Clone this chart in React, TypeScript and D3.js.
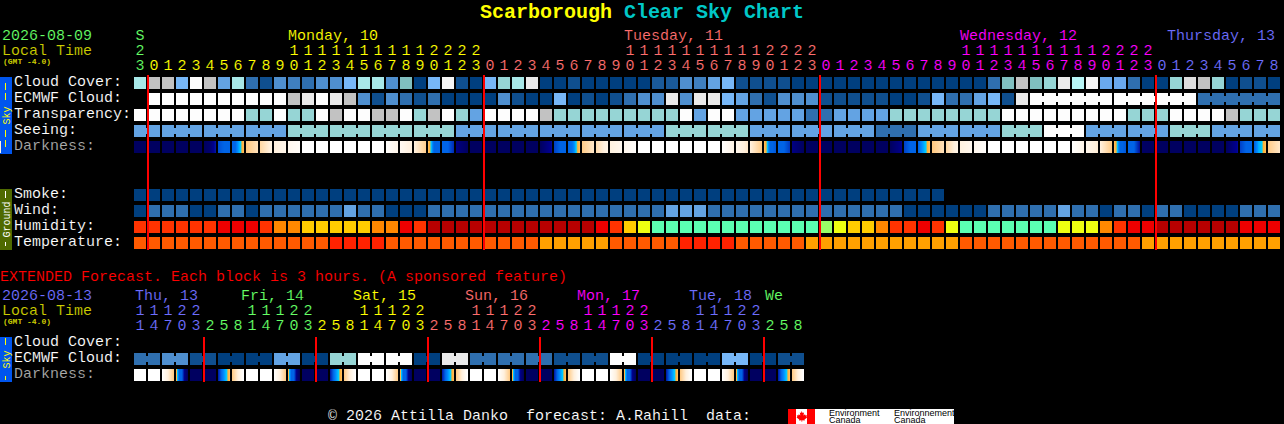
import React from 'react';
import * as d3 from 'd3';

// hour of each 1-hour column
const hours = [23,
  0,1,2,3,4,5,6,7,8,9,10,11,12,13,14,15,16,17,18,19,20,21,22,23,
  0,1,2,3,4,5,6,7,8,9,10,11,12,13,14,15,16,17,18,19,20,21,22,23,
  0,1,2,3,4,5,6,7,8,9,10,11,12,13,14,15,16,17,18,19,20,21,22,23,
  0,1,2,3,4,5,6,7,8];
const extHours = [11,14,17,20,23, 2,5,8,11,14,17,20,23, 2,5,8,11,14,17,20,23, 2,5,8,11,14,17,20,23,
  2,5,8,11,14,17,20,23, 2,5,8,11,14,17,20,23, 2,5,8];

const cloudCover = [70,80,80,50,100,80,40,70,20,10,30,25,20,30,30,50,70,70,30,65,0,
  50,95,10,0,50,60,70,90,0,0,10,0,0,0,0,0,15,15,30,25,40,50,10,10,10,10,0,0,0,0,0,
  0,0,0,0,0,0,0,0,0,20,65,80,65,60,90,75,95,45,45,20,0,0,60,85,80,60,0,10,10,0];
const ecmwfCloud = [null,100,100,100,100,100,100,100,100,100,100,80,90,100,90,80,30,10,30,20,10,
  20,0,0,0,0,30,10,0,0,50,0,10,0,10,20,30,30,90,30,90,90,50,40,20,10,30,30,30,10,10,10,
  10,10,0,0,10,50,20,20,40,50,10,90,100,100,100,100,100,100,100,100,100,100,100,100,20,20,20,20,20,20];
const transparency = [100,100,100,100,100,100,100,100,60,60,100,60,60,100,80,100,100,80,80,100,60,
  80,100,60,40,100,100,100,100,80,60,60,60,60,60,60,60,60,60,100,40,100,100,40,40,40,40,40,20,20,40,40,
  40,40,60,60,60,60,60,60,60,60,100,100,100,100,100,100,100,100,100,60,60,60,100,100,100,100,80,60,60,60];
const seeing = [40,40,40,40,40,40,40,40,40,40,40,60,60,60,60,60,60,60,60,60,60,
  60,60,40,40,40,40,40,40,40,40,40,40,40,40,40,40,40,60,60,60,60,60,60,40,40,40,40,40,40,40,40,
  40,20,20,20,40,40,40,40,40,40,60,60,60,100,100,100,40,40,40,40,40,40,60,60,60,40,40,40,40,40];
const smoke = [0,0,0,0,0,0,0,0,0,0,0,0,0,0,0,0,0,0,0,0,0,0,0,0,0,0,0,0,0,
  0,0,0,0,0,0,0,0,0,0,0,0,0,0,0,0,0,0,0,0,0,0,0,0,0,0,0,0,0];
const wind = [0,20,20,20,0,0,20,20,0,20,20,20,20,20,20,40,20,20,0,0,0,
  20,20,20,20,20,20,20,20,20,20,20,20,20,20,20,20,20,40,40,40,20,20,20,20,20,20,20,20,20,20,20,
  20,20,20,0,0,0,0,0,0,20,20,20,20,20,40,20,20,0,20,20,0,20,20,0,0,0,0,20,20,20];
const humidity = [4,4,4,4,4,4,5,5,5,4,3,3,2,2,2,2,2,3,3,5,4,
  6,6,6,6,6,6,6,6,6,6,6,6,5,4,2,1,0,0,0,0,0,0,0,0,0,0,0,0,7,1,2,
  2,3,4,4,5,4,1,0,0,0,0,0,0,0,1,1,1,3,4,5,5,6,6,6,6,6,6,5,5,5];
const temperature = [1,1,1,1,1,1,1,1,1,1,1,1,1,1,2,2,2,2,1,1,1,
  1,1,1,1,1,1,1,1,0,0,0,0,0,1,1,1,1,1,2,2,2,2,1,1,1,1,1,0,0,0,0,
  0,0,0,0,0,0,0,1,1,1,1,1,1,1,1,1,1,1,1,1,0,0,0,0,0,0,0,0,0,0];
const extEcmwf = [20,20,30,30,10,10,0,0,0,0,40,40,0,0,60,60,100,100,100,100,0,0,90,90,
  20,20,20,20,20,20,10,10,10,10,100,100,0,0,0,0,0,0,50,50,0,0,10,10];

// colour stops read across each darkness cell, 0 is night and 1 is full daylight
const N = [0.05, 0.05];
const W = [1, 1];
const darkness = [N,N,N,N,N,[0.05,0.08,0.18],[0.27,0.3,0.3],[0.3,0.3,0.4,0.46,0.55],[0.6,0.72],[0.68,0.82],[0.8,0.87],[0.9,0.96],
  W,W,W,W,W,W,[0.98,0.88],[0.92,0.8],[0.8,0.64],
  [0.55,0.45,0.3,0.3,0.3],[0.3,0.3,0.22],[0.12,0.05],N,N,N,N,N,[0.05,0.16],[0.25,0.3,0.3],[0.3,0.33,0.45,0.55],[0.62,0.75],[0.7,0.85],[0.82,0.9],[0.9,0.97],
  W,W,W,W,W,W,[0.98,0.85],[0.88,0.76],[0.8,0.62],
  [0.55,0.46,0.3,0.3,0.28],[0.3,0.3,0.24],[0.12,0.05],N,N,N,N,N,N,[0.05,0.14],[0.25,0.3,0.3],[0.3,0.4,0.46,0.55],[0.6,0.72],[0.68,0.85],[0.82,0.9],[0.9,0.97],
  W,W,W,W,W,W,[0.98,0.87],[0.88,0.78],[0.8,0.62],
  [0.55,0.46,0.3,0.3,0.28],[0.3,0.3,0.18],[0.06,0.05],N,N,N,N,N,[0.05,0.16],[0.25,0.3,0.3],[0.3,0.42,0.46,0.55],[0.62,0.75],[0.72,0.85]];
const SS = [0.98, 0.8, 0.62];
const DK = [0.53, 0.3, 0.3, 0.12, 0.05];
const DW = [0.2, 0.3, 0.4, 0.46, 0.55];
const SR = [0.62, 0.8, 1];
const extDarkness = [W,W,SS,DK,N,N,DW,SR, W,W,SS,DK,N,N,DW,SR, W,W,SS,DK,N,N,DW,SR,
  W,W,SS,DK,N,N,DW,SR, W,W,SS,DK,N,N,DW,SR, W,W,SS,DK,N,N,DW,SR];

const midnights = [1, 25, 49, 73];
const extMidnights = [5, 13, 21, 29, 37, 45];
const seeingBreaks = [2,5,8,11,14,17,20,23,26,29,32,35,38,41,44,47,50,53,56,59,62,65,68,71,74,77,80];
const ecmwfBridged = [64,65,66,67,68,70,71,72,73,74,76,77,78,79,80];
const extBridged = d3.range(0, 48, 2);

const days = ['Monday, 10', 'Tuesday, 11', 'Wednesday, 12', 'Thursday, 13'];
const dayCols = [11, 35, 59, 74];
const extDays = ['Thu, 13', 'Fri, 14', 'Sat, 15', 'Sun, 16', 'Mon, 17', 'Tue, 18', 'We'];
const extDayCols = [0, 8, 16, 24, 32, 40, 45];

const dayColors = ['#66ff66', '#ffff00', '#ff6e6e', '#ff00ff', '#6e6eff'];
const extDayColors = ['#6e6eff', '#66ff66', '#ffff00', '#ff6e6e', '#ff00ff', '#6e6eff', '#66ff66'];

const step = 14;
const cell = 12;
const left = 134;
const FONT = '"Liberation Mono", monospace';

const x = d3.scaleBand<number>().domain(d3.range(82)).range([left, left + 82 * step - 2]).paddingInner(2 / step);
const xe = d3.scaleBand<number>().domain(d3.range(48)).range([left, left + 48 * step - 2]).paddingInner(2 / step);

const levelColor = d3.scaleOrdinal<number, string>()
  .domain([0, 10, 15, 20, 25, 30, 40, 45, 50, 60, 65, 70, 75, 80, 85, 90, 95, 100])
  .range(['#003f7f', '#0f4f8f', '#1a5a9a', '#2f6faf', '#3f7fbf', '#4f8fcf', '#63a3e3', '#6aa9ee', '#77b7f7', '#96d5d5', '#80bfbf', '#a8e8e8', '#b8f6f6', '#c2c2c2', '#dddddd', '#eaeaea', '#f5f5f5', '#fdfdfd']);
const humidityColor = d3.scaleOrdinal<number, string>()
  .domain([0, 1, 2, 3, 4, 5, 6, 7])
  .range(['#5bffb2', '#eeff11', '#ffcc00', '#ff8800', '#ff3300', '#ee0000', '#b80000', '#99ff66']);
const temperatureColor = d3.scaleOrdinal<number, string>()
  .domain([0, 1, 2])
  .range(['#ffa000', '#ff5a00', '#ff2200']);
const darkRamp = d3.scaleLinear<string>()
  .domain([0, 0.15, 0.3, 0.4, 0.46, 0.5, 0.6, 0.8, 1])
  .range(['#000048', '#000090', '#0064e6', '#0090ff', '#00d0ff', '#ffb030', '#ffc880', '#fff0dd', '#ffffff'])
  .clamp(true);
const dayColor = d3.scaleThreshold<number, string>().domain(midnights).range(dayColors);
const extDayColor = d3.scaleThreshold<number, string>().domain(extMidnights).range(extDayColors);

const rowY = { cloud: 77, ecmwf: 93, transp: 109, seeing: 125, dark: 141, smoke: 189, wind: 205, humid: 221, temp: 237, extCloud: 337, extEcmwf: 353, extDark: 369 };

function Row({ values, y, color, scale = x, bridged = [] as number[] }: any) {
  return (
    <g shapeRendering="crispEdges">
      {values.map((v: number | null, i: number) => v === null ? null : (
        <rect key={i} x={scale(i)} y={y} width={cell} height={cell} fill={color(v)} />
      ))}
      {bridged.map((i: number) => (
        <rect key={'b' + i} x={scale(i) + cell} y={y + 3} width={step - cell} height={6} fill={color(values[i])} />
      ))}
    </g>
  );
}

function DarkRow({ values, y, scale = x }: any) {
  return (
    <g shapeRendering="crispEdges">
      {values.map((stops: number[], i: number) => {
        const along = d3.scaleLinear().domain(stops.map((_, k) => k * (cell - 1) / (stops.length - 1))).range(stops);
        return d3.range(cell).map(px => (
          <rect key={i + '-' + px} x={scale(i) + px} y={y} width={1} height={cell} fill={darkRamp(along(px))} />
        ));
      })}
    </g>
  );
}

// the black hairline thins the glyphs a little towards the original bitmap font
function Label({ x: tx, y, fill = '#fff', size = 15, children, ...rest }: any) {
  return <text x={tx} y={y} fill={fill} fontSize={size} fontFamily={FONT} stroke="#000" strokeWidth={size > 10 ? 0.12 : 0} {...rest}>{children}</text>;
}

function SideBar({ y, h, fill, ink, word, dashes, wordY }: any) {
  return (
    <g>
      <rect x={0} y={y} width={12} height={h} fill={fill} shapeRendering="crispEdges" />
      {dashes.map((d: number, i: number) => (
        <rect key={i} x={5} y={d} width={1} height={i % 2 === 0 || dashes.length > 2 ? 7 : 4} fill={ink} shapeRendering="crispEdges" />
      ))}
      <text transform={`translate(9.5,${wordY}) rotate(-90)`} fill={ink} fontSize={10} fontFamily={FONT} textAnchor="middle">{word}</text>
    </g>
  );
}

export default function App() {
  // seeing blocks are joined inside each 3 hour model step
  const seeingBridged = d3.range(0, 81).filter(i => !seeingBreaks.includes(i + 1));
  return (
    <svg width={1284} height={424} style={{ position: 'absolute', left: 0, top: 0, background: '#000' }}>
      <rect width={1284} height={424} fill="#000" />

      <text x={480} y={18} fontSize={20} fontWeight="bold" fontFamily={FONT} xmlSpace="preserve">
        <tspan fill="#ffff00">Scarborough</tspan>
        <tspan fill="#00c8c8"> Clear Sky Chart</tspan>
      </text>

      <Label x={2} y={40} fill="#66ff66">2026-08-09</Label>
      <Label x={2} y={55} fill="#cccc00">Local Time</Label>
      <Label x={3} y={64} fill="#cccc00" size={8} fontWeight="bold">(GMT -4.0)</Label>

      <Label x={x(0)! + cell / 2} y={40} fill={dayColors[0]} textAnchor="middle">S</Label>
      {days.map((d, i) => (
        <Label key={d} x={x(dayCols[i])! - (i === days.length - 1 ? 3 : 0)} y={40} fill={dayColors[i + 1]}>{d}</Label>
      ))}
      {hours.map((h, i) => (
        <g key={i}>
          {h >= 10 && <Label x={x(i)! + cell / 2} y={55} fill={dayColor(i)} textAnchor="middle">{Math.floor(h / 10)}</Label>}
          <Label x={x(i)! + cell / 2} y={70} fill={dayColor(i)} textAnchor="middle">{h % 10}</Label>
        </g>
      ))}

      <Label x={14} y={86}>Cloud Cover:</Label>
      <Label x={14} y={102}>ECMWF Cloud:</Label>
      <Label x={14} y={118}>Transparency:</Label>
      <Label x={14} y={134}>Seeing:</Label>
      <Label x={14} y={150} fill="#aaaaaa">Darkness:</Label>
      <SideBar y={77} h={77} fill="#0055ee" ink="#ffff00" word="Sky" wordY={115.5} dashes={[83, 93, 130, 140]} />

      <Label x={14} y={198}>Smoke:</Label>
      <Label x={14} y={214}>Wind:</Label>
      <Label x={14} y={230}>Humidity:</Label>
      <Label x={14} y={246}>Temperature:</Label>
      <SideBar y={189} h={61} fill="#4f6a00" ink="#ffffff" word="Ground" wordY={219.5} dashes={[191, 242]} />

      <Row values={cloudCover} y={rowY.cloud} color={levelColor} />
      <Row values={ecmwfCloud} y={rowY.ecmwf} color={levelColor} bridged={ecmwfBridged} />
      <Row values={transparency} y={rowY.transp} color={levelColor} />
      <Row values={seeing} y={rowY.seeing} color={levelColor} bridged={seeingBridged} />
      <DarkRow values={darkness} y={rowY.dark} />
      <Row values={smoke} y={rowY.smoke} color={levelColor} />
      <Row values={wind} y={rowY.wind} color={levelColor} />
      <Row values={humidity} y={rowY.humid} color={humidityColor} />
      <Row values={temperature} y={rowY.temp} color={temperatureColor} />

      {midnights.map(m => (
        <rect key={m} x={x(m)! - 1} y={75} width={2} height={175} fill="#ff0000" shapeRendering="crispEdges" />
      ))}

      <Label x={0} y={281} fill="#ff0000">EXTENDED Forecast. Each block is 3 hours. (A sponsored feature)</Label>
      <Label x={2} y={300} fill="#6e6eff">2026-08-13</Label>
      <Label x={2} y={315} fill="#cccc00">Local Time</Label>
      <Label x={3} y={324} fill="#cccc00" size={8} fontWeight="bold">(GMT -4.0)</Label>

      {extDays.map((d, i) => {
        const nudge = i === 0 || i === extDays.length - 1 ? 1 : -5;
        return <Label key={d} x={xe(extDayCols[i])! + nudge} y={300} fill={extDayColors[i]}>{d}</Label>;
      })}
      {extHours.map((h, i) => (
        <g key={i}>
          {h >= 10 && <Label x={xe(i)! + cell / 2} y={315} fill={extDayColor(i)} textAnchor="middle">{Math.floor(h / 10)}</Label>}
          <Label x={xe(i)! + cell / 2} y={330} fill={extDayColor(i)} textAnchor="middle">{h % 10}</Label>
        </g>
      ))}

      <Label x={14} y={346}>Cloud Cover:</Label>
      <Label x={14} y={362}>ECMWF Cloud:</Label>
      <Label x={14} y={378} fill="#aaaaaa">Darkness:</Label>
      <SideBar y={337} h={45} fill="#0055ee" ink="#ffff00" word="Sky" wordY={359.5} dashes={[338, 376]} />

      <Row values={extEcmwf} y={rowY.extEcmwf} color={levelColor} scale={xe} bridged={extBridged} />
      <DarkRow values={extDarkness} y={rowY.extDark} scale={xe} />

      {extMidnights.map(m => (
        <rect key={m} x={xe(m)! - 1} y={337} width={2} height={45} fill="#ff0000" shapeRendering="crispEdges" />
      ))}

      <Label x={328} y={420} xmlSpace="preserve">© 2026 Attilla Danko  forecast: A.Rahill  data:</Label>

      <g shapeRendering="crispEdges">
        <rect x={788} y={409} width={166} height={15} fill="#fff" />
        <rect x={788} y={409} width={8} height={15} fill="#ff0000" />
        <rect x={807} y={409} width={8} height={15} fill="#ff0000" />
      </g>
      <path d="M801.5,411 l1.2,2 1.3,-0.6 -0.5,3 1.5,-1.2 0.5,1.2 1.5,-0.2 -0.5,1.8 0.8,0.5 -2.8,2 0.3,1 -2.5,-0.3 -0.2,1.8 h-0.4 l-0.2,-1.8 -2.5,0.3 0.3,-1 -2.8,-2 0.8,-0.5 -0.5,-1.8 1.5,0.2 0.5,-1.2 1.5,1.2 -0.5,-3 1.3,0.6z" fill="#ff0000" />
      <g fontFamily='"Liberation Sans", sans-serif' fontSize={9} fill="#000">
        <text x={829} y={416}>Environment</text>
        <text x={829} y={423}>Canada</text>
        <text x={894} y={416}>Environnement</text>
        <text x={894} y={423}>Canada</text>
      </g>
    </svg>
  );
}
